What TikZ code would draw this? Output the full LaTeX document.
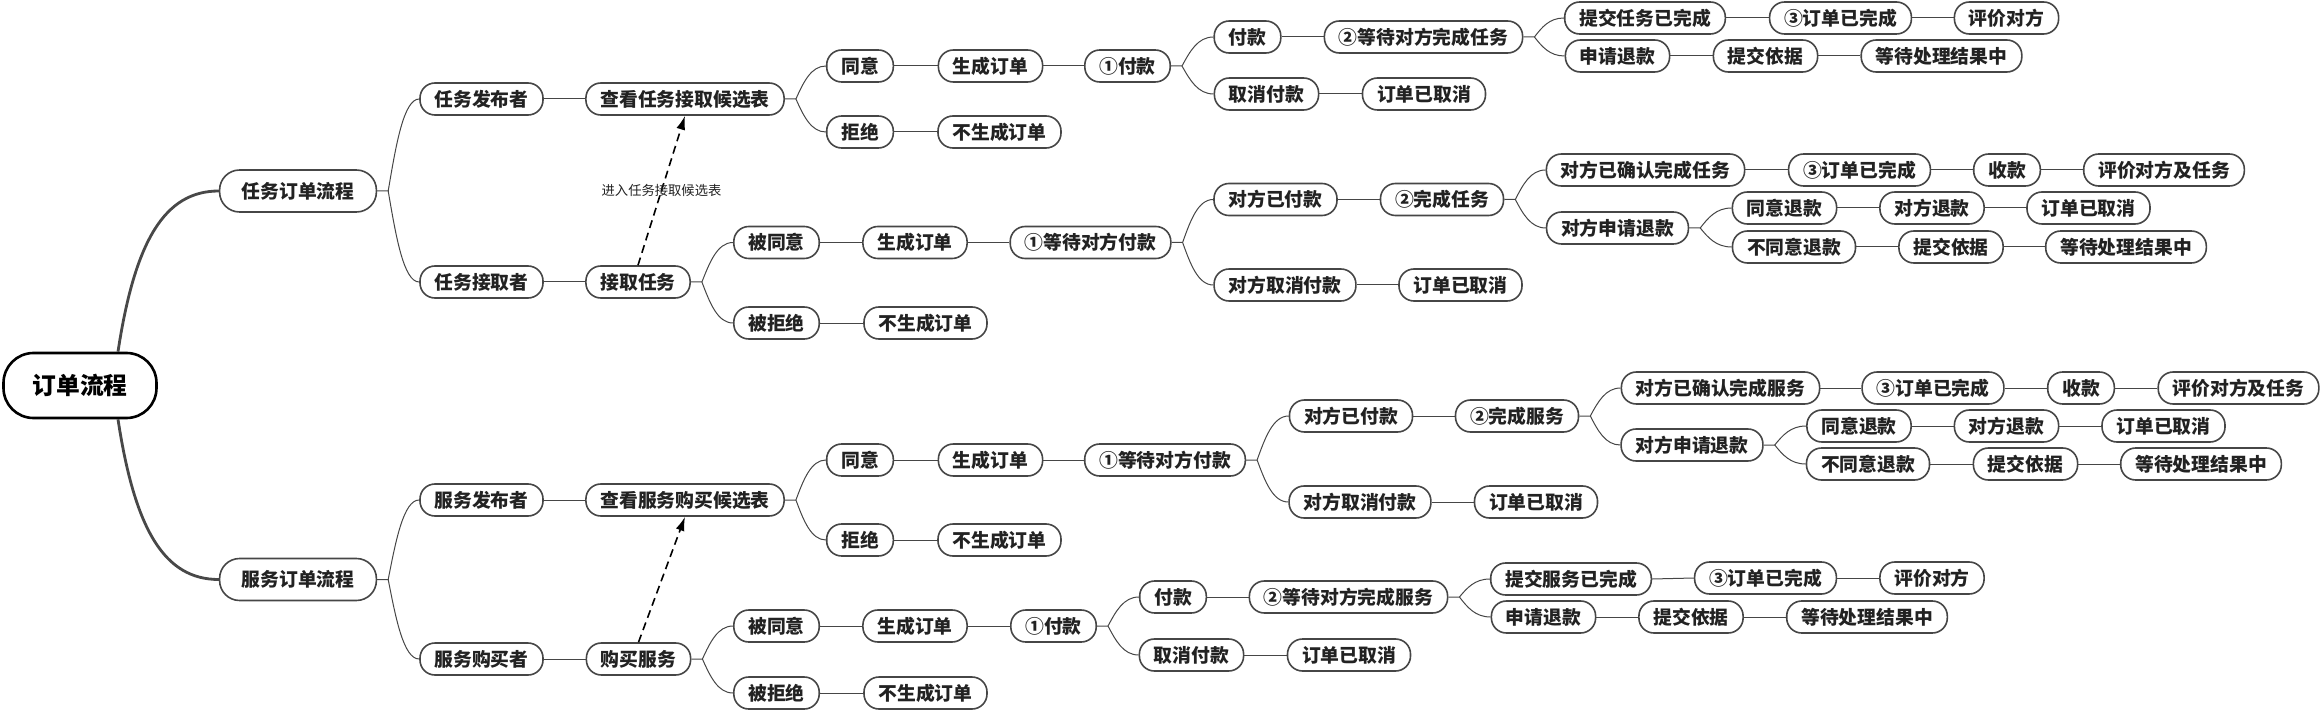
\documentclass[tikz,border=0pt]{standalone}
\usepackage{fontspec}
\setmainfont{Noto Sans CJK SC}
\usepackage{xcolor}
\usetikzlibrary{calc,arrows.meta}

\definecolor{edgegray}{RGB}{70,70,70}
\definecolor{txt}{RGB}{34,34,34}
\definecolor{mainline}{RGB}{72,72,72}

\tikzset{
  box/.style={draw=edgegray, line width=1.6pt, fill=white, rounded corners=15pt,
    minimum height=32pt, inner xsep=14.5pt, inner ysep=0pt, text=txt,
    font=\fontsize{18.8}{20}\selectfont\bfseries},
  topic/.style={box, minimum height=42pt, inner xsep=22pt, rounded corners=20pt},
  rootbox/.style={box, draw=black, line width=2.6pt, minimum height=65pt, inner xsep=29pt,
    rounded corners=30pt, text=black, font=\fontsize{23.75}{26}\selectfont\bfseries},
  conn/.style={draw=edgegray, line width=1pt},
  trunk/.style={draw=mainline, line width=2.8pt},
  jump/.style={draw=black, line width=1.6pt, dash pattern=on 8pt off 5pt,
    -{Latex[length=14pt,width=9pt]}},
  hint/.style={font=\fontsize{13.3}{14}\selectfont, text=txt},
  branch/.style={to path={let \p1=(\tikztostart), \p2=(\tikztotarget) in
    .. controls ({0.75*\x1+0.25*\x2},{0.5*\y1+0.5*\y2}) and ({0.5*\x1+0.5*\x2},\y2) .. (\tikztotarget)}}
}

\begin{document}
\begin{tikzpicture}[x=1pt,y=-1pt]
\useasboundingbox (0,0) rectangle (2320,711);

% root and the two flows
\node[rootbox] (root) at (80,385.5) {订单流程};
\node[topic] (t0) at (298,191) {任务订单流程};
\node[topic] (s0) at (298,579.5) {服务订单流程};

% task flow, publisher side
\node[box] (tpub) at (481.5,99) {任务发布者};
\node[box] (tlist) at (685,99) {查看任务接取候选表};
\node[box] (tyes) at (860,66) {同意};
\node[box] (tord) at (990.5,66) {生成订单};
\node[box] (tpay) at (1127.5,66) {①付款};
\node[box] (tpaid) at (1247.5,37) {付款};
\node[box] (twait) at (1423.5,37) {②等待对方完成任务};
\node[box] (tsubmit) at (1645,18) {提交任务已完成};
\node[box] (tdone) at (1840.5,18) {③订单已完成};
\node[box] (trate) at (2006.5,18) {评价对方};
\node[box] (trefund) at (1617.5,56) {申请退款};
\node[box] (tproof) at (1765.5,56) {提交依据};
\node[box] (tpend) at (1941.5,56) {等待处理结果中};
\node[box] (tcancel) at (1266.5,94) {取消付款};
\node[box] (tcanceled) at (1424,94) {订单已取消};
\node[box] (tno) at (860,132) {拒绝};
\node[box] (tnoord) at (999.5,132) {不生成订单};

% task flow, taker side
\node[box] (ttaker) at (481.5,282) {任务接取者};
\node[box] (ttake) at (638,282) {接取任务};
\node[box] (tacc) at (776.5,242.5) {被同意};
\node[box] (taccord) at (915,242.5) {生成订单};
\node[box] (twaitpay) at (1090.5,242.5) {①等待对方付款};
\node[box] (tgotpay) at (1275.5,199.5) {对方已付款};
\node[box] (tfinish) at (1442,199.5) {②完成任务};
\node[box] (tconfirm) at (1645.5,170) {对方已确认完成任务};
\node[box] (tdone2) at (1859.5,170) {③订单已完成};
\node[box] (tcollect) at (2007,170) {收款};
\node[box] (trate2) at (2164,170) {评价对方及任务};
\node[box] (treq) at (1617.5,228) {对方申请退款};
\node[box] (tagree) at (1784.5,208) {同意退款};
\node[box] (trefunded) at (1932,208) {对方退款};
\node[box] (tcanceled2) at (2088.5,208) {订单已取消};
\node[box] (tdisagree) at (1794,247) {不同意退款};
\node[box] (tproof2) at (1951,247) {提交依据};
\node[box] (tpend2) at (2126,247) {等待处理结果中};
\node[box] (tcancelpay) at (1285,285) {对方取消付款};
\node[box] (tcanceled3) at (1460.5,285) {订单已取消};
\node[box] (trej) at (776.5,323) {被拒绝};
\node[box] (trejord) at (925.5,323) {不生成订单};

% service flow, publisher side
\node[box] (spub) at (481.5,500) {服务发布者};
\node[box] (slist) at (685,500) {查看服务购买候选表};
\node[box] (syes) at (860,460) {同意};
\node[box] (sord) at (990.5,460) {生成订单};
\node[box] (swaitpay) at (1165,460) {①等待对方付款};
\node[box] (sgotpay) at (1351,416) {对方已付款};
\node[box] (sfinish) at (1517,416) {②完成服务};
\node[box] (sconfirm) at (1720.5,388) {对方已确认完成服务};
\node[box] (sdone) at (1933,388) {③订单已完成};
\node[box] (scollect) at (2081,388) {收款};
\node[box] (srate) at (2238.5,388) {评价对方及任务};
\node[box] (sreq) at (1692,445) {对方申请退款};
\node[box] (sagree) at (1859,426) {同意退款};
\node[box] (srefunded) at (2006.5,426) {对方退款};
\node[box] (scanceled) at (2163.5,426) {订单已取消};
\node[box] (sdisagree) at (1868,464) {不同意退款};
\node[box] (sproof) at (2025.5,464) {提交依据};
\node[box] (spend) at (2201,464) {等待处理结果中};
\node[box] (scancelpay) at (1360,502) {对方取消付款};
\node[box] (scanceled2) at (1536,502) {订单已取消};
\node[box] (sno) at (860,540) {拒绝};
\node[box] (snoord) at (999.5,540) {不生成订单};

% service flow, buyer side
\node[box] (sbuyer) at (481.5,659) {服务购买者};
\node[box] (sbuy) at (638.5,659) {购买服务};
\node[box] (sacc) at (776.5,626) {被同意};
\node[box] (saccord) at (915,626) {生成订单};
\node[box] (spay) at (1053.5,626) {①付款};
\node[box] (spaid) at (1173,597) {付款};
\node[box] (swait) at (1348.5,597) {②等待对方完成服务};
\node[box] (ssubmit) at (1571,579) {提交服务已完成};
\node[box] (sdone2) at (1765.5,578) {③订单已完成};
\node[box] (srate2) at (1932,578) {评价对方};
\node[box] (srefund) at (1543.5,617) {申请退款};
\node[box] (sproof2) at (1691,617) {提交依据};
\node[box] (spend2) at (1867,617) {等待处理结果中};
\node[box] (scancel) at (1191.5,655) {取消付款};
\node[box] (scanceled3) at (1349,655) {订单已取消};
\node[box] (srej) at (776.5,693) {被拒绝};
\node[box] (srejord) at (925.5,693) {不生成订单};

% trunk
\draw[trunk] ($(root.north)+(38,0)$) .. controls (135,240) and (165,191) .. (t0.west);
\draw[trunk] ($(root.south)+(38,0)$) .. controls (135,531) and (165,579.5) .. (s0.west);

% straight links
\foreach \a/\b in {tpub/tlist, tyes/tord, tord/tpay, tpaid/twait, tsubmit/tdone, tdone/trate,
    trefund/tproof, tproof/tpend, tcancel/tcanceled, tno/tnoord, ttaker/ttake, tacc/taccord,
    taccord/twaitpay, tgotpay/tfinish, tconfirm/tdone2, tdone2/tcollect, tcollect/trate2,
    tagree/trefunded, trefunded/tcanceled2, tdisagree/tproof2, tproof2/tpend2,
    tcancelpay/tcanceled3, trej/trejord, spub/slist, syes/sord, sord/swaitpay, sgotpay/sfinish,
    sconfirm/sdone, sdone/scollect, scollect/srate, sagree/srefunded, srefunded/scanceled,
    sdisagree/sproof, sproof/spend, scancelpay/scanceled2, sno/snoord, sbuyer/sbuy,
    sacc/saccord, saccord/spay, spaid/swait, ssubmit/sdone2, sdone2/srate2, srefund/sproof2,
    sproof2/spend2, scancel/scanceled3, srej/srejord}
  \draw[conn] (\a.east) -- (\b.west);

% forks
\foreach \p/\u/\d in {t0/tpub/ttaker, tlist/tyes/tno, tpay/tpaid/tcancel, twait/tsubmit/trefund,
    ttake/tacc/trej, twaitpay/tgotpay/tcancelpay, tfinish/tconfirm/treq, treq/tagree/tdisagree,
    s0/spub/sbuyer, slist/syes/sno, swaitpay/sgotpay/scancelpay, sfinish/sconfirm/sreq,
    sreq/sagree/sdisagree, sbuy/sacc/srej, spay/spaid/scancel, swait/ssubmit/srefund}
  \draw[conn] (\p.east) -- ++(11,0) coordinate (\p-s) to[branch] (\u.west)
    (\p-s) to[branch] (\d.west);

% candidate list jumps
\draw[jump] (ttake.north) -- node[hint] (hint1) {进入任务接取候选表} (tlist.south);
\draw[jump] (sbuy.north) -- (slist.south);
\end{tikzpicture}
\end{document}
